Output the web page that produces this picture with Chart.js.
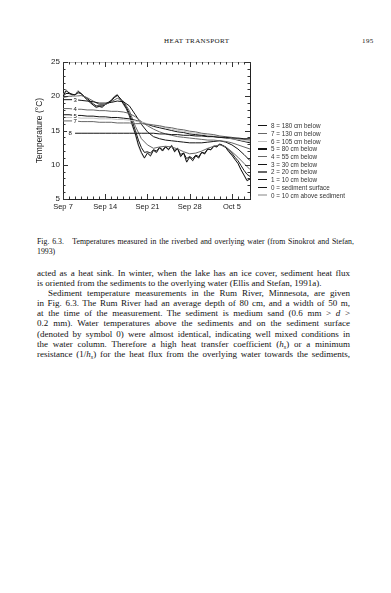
<!DOCTYPE html>
<html><head><meta charset="utf-8">
<script src="https://cdn.jsdelivr.net/npm/chart.js@4.4.1/dist/chart.umd.min.js"></script>
<style>
html,body{margin:0;padding:0;background:#fff;}
body{width:391px;height:593px;position:relative;overflow:hidden;font-family:'Liberation Serif',serif;color:#111;}
#wrap{position:absolute;left:0;top:50px;width:391px;height:170px;}
.hdr{position:absolute;top:37px;font-size:7px;line-height:8px;letter-spacing:0.4px;}
#legend{position:absolute;left:258px;top:122px;font-family:'Liberation Sans',sans-serif;font-size:6.3px;color:#333;}
.row{display:flex;align-items:center;height:7.7px;white-space:nowrap;}
.sw{display:inline-block;width:9px;height:1.3px;margin-right:4px;}
.blk{position:absolute;left:37px;}
.ln{display:block;white-space:nowrap;}
.ln span{display:inline-block;white-space:nowrap;}
.cap{top:237px;font-size:7.8px;line-height:10px;}
.txt{top:268px;font-size:9px;line-height:10.1px;}
sub{font-size:6px;line-height:0;vertical-align:-2px;}
</style>
</head><body>
<div class="hdr" style="left:164px;">HEAT TRANSPORT</div>
<div class="hdr" style="left:362px;">195</div>
<div id="wrap"><canvas id="c" width="391" height="170"></canvas></div>
<div id="legend"></div>
<div class="blk cap">
<div class="ln"><span class="j" data-w="315">Fig. 6.3.&nbsp;&nbsp; Temperatures measured in the riverbed and overlying water (from Sinokrot and Stefan,</span></div>
<div class="ln"><span>1993)</span></div>
</div>
<div class="blk txt">
<div class="ln"><span class="j" data-w="313">acted as a heat sink. In winter, when the lake has an ice cover, sediment heat flux</span></div>
<div class="ln"><span>is oriented from the sediments to the overlying water (Ellis and Stefan, 1991a).</span></div>
<div class="ln" style="padding-left:11px"><span class="j" data-w="302">Sediment temperature measurements in the Rum River, Minnesota, are given</span></div>
<div class="ln"><span class="j" data-w="313">in Fig. 6.3. The Rum River had an average depth of 80 cm, and a width of 50 m,</span></div>
<div class="ln"><span class="j" data-w="313">at the time of the measurement. The sediment is medium sand (0.6 mm &gt; <i>d</i> &gt;</span></div>
<div class="ln"><span class="j" data-w="313">0.2 mm). Water temperatures above the sediments and on the sediment surface</span></div>
<div class="ln"><span class="j" data-w="313">(denoted by symbol 0) were almost identical, indicating well mixed conditions in</span></div>
<div class="ln"><span class="j" data-w="313">the water column. Therefore a high heat transfer coefficient (<i>h<sub>s</sub></i>) or a minimum</span></div>
<div class="ln"><span class="j" data-w="313">resistance (1/<i>h<sub>s</sub></i>) for the heat flux from the overlying water towards the sediments,</span></div>
</div>
<script>
// x positions: days after Sep 7
const halfDays = [0,0.5,1,1.5,2,2.5,3,3.5,4,4.5,5,5.5,6,6.5,7,7.5,8,8.5,9,9.5,10,10.5,11,11.5,12,12.5,13,13.5,14,14.5,15,15.5,16,16.5,17,17.5,18,18.5,19,19.5,20,20.5,21,21.5,22,22.5,23,23.5,24,24.5,25,25.5,26,26.5,27,27.5,28,28.5,29,29.5,30,30.5,31];
const days = [0,1,2,3,4,5,6,7,8,9,10,11,12,13,14,15,16,17,18,19,20,21,22,23,24,25,26,27,28,29,30,31];
const tickDays = [0,7,14,21,28];
const tickLabels = ['Sep 7','Sep 14','Sep 21','Sep 28','Oct 5'];

// temperatures (°C)
const above0 = [20.1,21.0,20.5,20.3,20.2,20.9,20.4,19.9,19.5,19.0,18.7,18.3,18.6,18.4,18.9,19.1,19.5,20.0,20.3,19.5,18.8,18.1,17.0,15.6,14.3,12.7,11.6,10.9,11.8,11.2,12.2,11.7,12.6,12.0,12.7,12.1,12.9,11.8,12.5,11.1,11.8,10.3,11.2,10.5,11.4,10.9,11.9,11.5,12.4,12.1,12.8,12.6,13.1,12.7,12.5,11.8,11.4,10.7,10.2,9.2,8.5,7.6,8.0];
const surf0 = [20.0,20.8,20.5,20.3,20.2,20.7,20.4,19.9,19.5,19.1,18.7,18.4,18.5,18.4,18.8,19.1,19.4,19.9,20.2,19.6,18.9,18.2,17.2,15.8,14.5,12.9,11.8,11.0,11.7,11.3,12.1,11.8,12.5,12.0,12.6,12.2,12.8,11.9,12.4,11.2,11.7,10.4,11.1,10.6,11.3,11.0,11.8,11.6,12.3,12.2,12.7,12.6,13.0,12.8,12.5,11.9,11.4,10.8,10.2,9.3,8.5,7.7,7.9];
const cm10 = [20.0,20.4,20.4,20.2,20.2,20.5,20.4,20.0,19.7,19.3,18.9,18.6,18.6,18.6,18.8,19.0,19.3,19.8,20.1,19.7,19.1,18.4,17.5,16.3,15.0,13.6,12.5,11.8,11.9,11.7,12.2,12.0,12.5,12.2,12.6,12.3,12.7,12.1,12.3,11.5,11.7,10.9,11.2,10.9,11.4,11.2,11.8,11.7,12.3,12.2,12.7,12.7,13.0,12.8,12.6,12.1,11.7,11.1,10.6,9.9,9.2,8.6,8.3];
const cm20 = [19.8,20.0,20.0,20.1,19.8,19.3,18.8,18.8,19.2,19.7,19.3,17.9,15.6,13.8,12.9,12.4,12.6,12.7,12.6,12.3,11.9,11.6,11.7,12.0,12.4,12.7,12.9,12.6,11.9,11.1,10.2,9.3];
const cm30 = [19.5,19.5,19.5,19.4,19.3,19.2,19.0,19.0,19.1,19.3,19.2,18.6,17.3,15.9,14.8,14.1,13.8,13.6,13.5,13.4,13.3,13.2,13.2,13.2,13.3,13.4,13.5,13.3,12.9,12.3,11.5,10.6];
const cm55 = [18.2,18.2,18.1,18.1,18.0,18.0,17.9,17.9,17.8,17.8,17.7,17.5,17.0,16.3,15.7,15.2,14.8,14.5,14.3,14.1,14.0,13.9,13.8,13.7,13.6,13.6,13.5,13.4,13.2,12.9,12.6,12.3];
const cm80 = [17.3,17.3,17.2,17.2,17.1,17.1,17.0,17.0,16.9,16.9,16.8,16.7,16.5,16.2,15.9,15.6,15.4,15.2,15.0,14.8,14.7,14.5,14.4,14.3,14.2,14.1,14.0,13.9,13.8,13.6,13.4,13.2];
const cm105 = [16.9,16.9,16.9,16.8,16.8,16.8,16.7,16.7,16.7,16.6,16.6,16.5,16.4,16.2,16.0,15.8,15.6,15.4,15.2,15.0,14.9,14.7,14.6,14.5,14.3,14.2,14.1,14.0,13.8,13.7,13.5,13.4];
const cm130 = [16.4,16.4,16.4,16.3,16.3,16.3,16.2,16.2,16.2,16.1,16.1,16.1,16.0,16.0,15.9,15.8,15.7,15.5,15.4,15.2,15.1,14.9,14.8,14.6,14.5,14.4,14.2,14.1,14.0,13.8,13.7,13.6];
const cm180 = [null,null,14.6,14.6,14.6,14.6,14.6,14.6,14.6,14.6,14.6,14.6,14.6,14.6,14.6,14.6,14.5,14.5,14.4,14.4,14.3,14.3,14.2,14.2,14.1,14.1,14.0,14.0,13.9,13.9,13.8,13.8];

const seriesLabels = ['8 = 180 cm below','7 = 130 cm below','6 = 105 cm below','5 = 80 cm below','4 = 55 cm below','3 = 30 cm below','2 = 20 cm below','1 = 10 cm below','0 = sediment surface','0 = 10 cm above sediment'];
const lineTags = ['8','7','','5','4','3','','','',''];

const BLACK='#151515', GRAY='#666', LIGHT='#c2c2c2';
const colors = [BLACK,GRAY,LIGHT,BLACK,GRAY,BLACK,GRAY,BLACK,BLACK,LIGHT];
const xsets = [days,days,days,days,days,days,days,halfDays,halfDays,halfDays];
const ysets = [cm180,cm130,cm105,cm80,cm55,cm30,cm20,cm10,surf0,above0];

function pts(xs, ys){ return xs.map((x,i)=>({x:x, y:ys[i]})); }

const datasets = seriesLabels.map((lab,i)=>({
  label: lab,
  data: pts(xsets[i], ysets[i]),
  borderColor: colors[i],
  backgroundColor: colors[i],
  borderWidth: 1,
  pointRadius: 0,
  tension: 0,
  spanGaps: false,
  tag: lineTags[i]
}));

const SANS = "'Liberation Sans', Arial, sans-serif";

const framePlugin = {
  id:'frame',
  afterDatasetsDraw(chart){
    const {ctx, chartArea:a, scales:{x,y}} = chart;
    ctx.save();
    ctx.lineWidth = 1;
    ctx.strokeStyle = '#222';
    ctx.beginPath();
    ctx.moveTo(a.right+0.5, a.top); ctx.lineTo(a.right+0.5, a.bottom);
    ctx.stroke();
    ctx.strokeStyle = '#bbb';
    ctx.beginPath();
    ctx.moveTo(a.left, a.top+0.5); ctx.lineTo(a.right, a.top+0.5);
    ctx.stroke();
    ctx.strokeStyle = '#333';
    ctx.beginPath();
    for (let d = x.min; d <= x.max; d++) {
      const px = Math.round(x.getPixelForValue(d)) + 0.5;
      const len = tickDays.includes(d) ? 5 : 2.5;
      ctx.moveTo(px, a.bottom); ctx.lineTo(px, a.bottom - len);
      ctx.moveTo(px, a.top); ctx.lineTo(px, a.top + len);
    }
    for (let t = y.min; t <= y.max; t++) {
      const py = Math.round(y.getPixelForValue(t)) + 0.5;
      const len = (t % 5 === 0) ? 5 : 2.5;
      ctx.moveTo(a.left, py); ctx.lineTo(a.left + len, py);
      ctx.moveTo(a.right, py); ctx.lineTo(a.right - len, py);
    }
    ctx.stroke();
    // line number tags
    ctx.font = '6px ' + SANS;
    ctx.textAlign = 'center';
    ctx.textBaseline = 'middle';
    chart.data.datasets.forEach((ds, i) => {
      if (!ds.tag) return;
      const first = ds.data.find(p => p.y !== null);
      let px, py;
      if (first.x > x.min) {
        px = x.getPixelForValue(first.x) - 5;
        py = y.getPixelForValue(first.y);
      } else {
        const p = ds.data.find(q => q.x === 2);
        px = x.getPixelForValue(p.x);
        py = y.getPixelForValue(p.y);
      }
      ctx.fillStyle = '#fff';
      ctx.fillRect(px - 3, py - 3, 6, 6);
      ctx.fillStyle = '#111';
      ctx.fillText(ds.tag, px, py + 0.5);
    });
    ctx.restore();
  }
};

const chart = new Chart(document.getElementById('c'), {
  type: 'line',
  data: { datasets },
  options: {
    responsive: false,
    animation: false,
    devicePixelRatio: 1,
    layout: { padding: { top: 12, right: 141, bottom: 0, left: 0 } },
    plugins: { legend: { display: false }, tooltip: { enabled: false } },
    scales: {
      x: {
        type: 'linear', min: 0, max: 31,
        afterBuildTicks: s => { s.ticks = tickDays.map(v => ({ value: v })); },
        afterFit: s => { s.height = 21; },
        ticks: {
          callback: v => tickLabels[tickDays.indexOf(v)],
          font: { family: SANS, size: 7.5 }, color: '#222', padding: 3,
          maxRotation: 0, autoSkip: false
        },
        grid: { drawOnChartArea: false, drawTicks: false },
        border: { display: true, color: '#222', width: 1 }
      },
      y: {
        type: 'linear', min: 5, max: 25,
        ticks: { stepSize: 5, font: { family: SANS, size: 8 }, color: '#222', padding: 3 },
        afterFit: s => { s.width = 63; },
        grid: { drawOnChartArea: false, drawTicks: false },
        border: { display: true, color: '#222', width: 1 },
        title: { display: true, text: 'Temperature (°C)', font: { family: SANS, size: 8.5 }, color: '#222', padding: { top: 35, bottom: 0 } }
      }
    }
  },
  plugins: [framePlugin]
});

// HTML legend built from the chart's datasets
const lg = document.getElementById('legend');
chart.data.datasets.forEach(ds => {
  const r = document.createElement('div'); r.className = 'row';
  const sw = document.createElement('span'); sw.className = 'sw'; sw.style.background = ds.borderColor;
  const tx = document.createElement('span'); tx.textContent = ds.label;
  r.appendChild(sw); r.appendChild(tx); lg.appendChild(r);
});

// justify text lines to their widths
document.querySelectorAll('span.j').forEach(el => {
  const target = parseFloat(el.dataset.w);
  const w = el.getBoundingClientRect().width;
  const n = (el.textContent.match(/ /g) || []).length;
  if (n) el.style.wordSpacing = ((target - w) / n) + 'px';
});
</script>
</body></html>
